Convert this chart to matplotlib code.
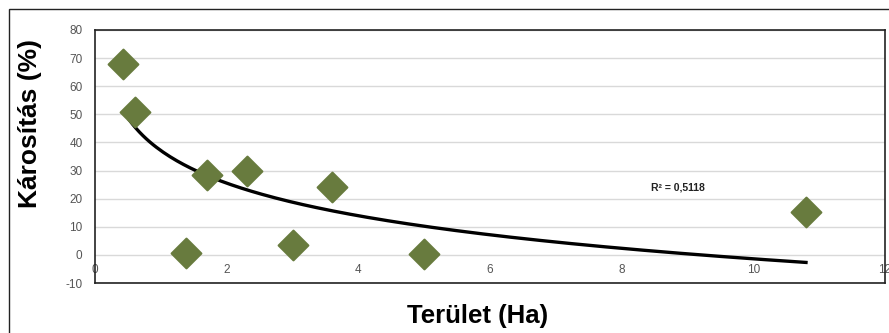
import numpy as np
import matplotlib.pyplot as plt
from matplotlib.patches import Rectangle

plt.rcParams['font.family'] = ['Liberation Sans', 'DejaVu Sans']
plt.rcParams['axes.unicode_minus'] = False

# data
terulet = [0.43, 0.61, 1.38, 1.70, 2.31, 3.01, 3.60, 5.00, 10.80]
karositas = [68.0, 51.0, 0.8, 28.5, 30.0, 3.6, 24.2, 0.2, 15.3]
r2_label = "R² = 0,5118"
yticks = [-10, 0, 10, 20, 30, 40, 50, 60, 70, 80]
xticks = [0, 2, 4, 6, 8, 10, 12]

fig = plt.figure(figsize=(8.89, 3.33), dpi=100)
fig.patches.append(Rectangle((9/889, -0.05), 1.0, 1 - 9/333 + 0.05,
                             transform=fig.transFigure, fill=False,
                             edgecolor='#222222', linewidth=1.0))
ax = fig.add_axes([95/889, 1 - 283/333, 790/889, 253/333])

for y in yticks:
    ax.axhline(y, color='#d9d9d9', linewidth=1.0, zorder=0)

# logarithmic trendline
x = np.array(terulet)
a, b = np.polyfit(np.log(x), np.array(karositas), 1)
xs = np.linspace(0.52, x.max(), 200)
ax.plot(xs, a*np.log(xs) + b, color='black', linewidth=2.4, zorder=2)

ax.scatter(terulet, karositas, marker='D', s=230, color='#687b3e',
           edgecolor='#687b3e', linewidth=1.5, zorder=3)

ax.text(8.86, 23.8, r2_label, fontsize=7.5, fontweight='bold', ha='center',
        va='center', color='#222222')

ax.set_xlim(0, 12)
ax.set_ylim(-10, 80)
ax.set_yticks(yticks)
ax.set_xticks(xticks)
ax.tick_params(axis='y', length=0, labelsize=8.5, labelcolor='#555555', pad=9)
ax.tick_params(axis='x', length=0, labelsize=8.5, labelcolor='#555555', pad=-13.5)
for s in ax.spines.values():
    s.set_color('#222222')
    s.set_linewidth(1.2)

fig.text(30/889, 1 - 123/333, "Károsítás (%)", rotation=90, fontsize=19,
         fontweight='bold', ha='center', va='center')
fig.text(478/889, 1 - 316/333, "Terület (Ha)", fontsize=18.5,
         fontweight='bold', ha='center', va='center')

fig.savefig('out.png', dpi=100)
